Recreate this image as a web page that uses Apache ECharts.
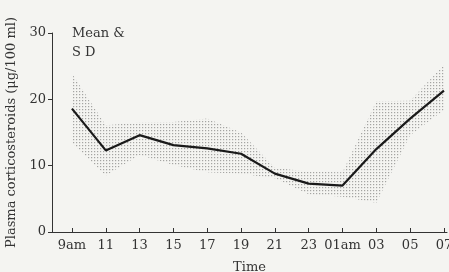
<!DOCTYPE html>
<html style="height: 100%">
<head>
   <meta charset="utf-8">
</head>
<style>
    body, html {
        margin: 0;
        background: #f4f4f1;
    }
    #chart {
        width: 449px;
        height: 272px;
    }
</style>
<title>Plasma corticosteroids</title>
<script src="https://cdn.jsdelivr.net/npm/echarts@6/dist/echarts.min.js"></script>
<body>
   <div id="chart"></div>
   <script type="text/javascript">
    // time points (tick labels)
    var times = ['9am', '11', '13', '15', '17', '19', '21', '23', '01am', '03', '05', '07'];
    // mean values
    var meanVals = [18.6, 12.3, 14.6, 13.1, 12.6, 11.8, 8.8, 7.3, 7.0, 12.5, 17.1, 21.3];
    // S D band edges
    var upperVals = [23.9, 16.1, 16.5, 16.6, 17.1, 15.0, 9.7, 9.1, 9.0, 19.7, 19.8, 25.2];
    var lowerVals = [13.4, 8.5, 11.6, 10.1, 9.0, 8.8, 8.1, 5.7, 5.3, 4.4, 14.6, 18.4];

    var serif = '"DejaVu Serif", "Liberation Serif", serif';

    // dotted texture for the S D band
    var pat = document.createElement('canvas');
    pat.width = 3;
    pat.height = 3;
    var pctx = pat.getContext('2d');
    pctx.fillStyle = 'rgba(110,110,110,0.6)';
    pctx.fillRect(1, 1, 1.2, 1.2);

    var chart = echarts.init(document.getElementById('chart'));
    var idx = times.map(function (t, i) { return i; });
    var option = {
        animation: false,
        backgroundColor: '#f4f4f1',
        grid: { left: 52, right: 2, top: 33, bottom: 40, outerBoundsMode: 'none' },
        xAxis: {
            type: 'value',
            min: -0.59,
            max: 11.09,
            name: 'Time',
            nameLocation: 'middle',
            nameGap: 29,
            nameTextStyle: { fontFamily: serif, fontSize: 13, color: '#333' },
            splitLine: { show: false },
            axisLine: { onZero: false, lineStyle: { color: '#333', width: 1 } },
            axisTick: { inside: true, length: 4, customValues: idx, lineStyle: { color: '#333' } },
            axisLabel: {
                customValues: idx,
                formatter: function (v) { return times[Math.round(v)]; },
                fontFamily: serif, fontSize: 13, color: '#333', margin: 7
            }
        },
        yAxis: {
            type: 'value',
            min: 0,
            max: 30,
            interval: 10,
            name: 'Plasma corticosteroids (\u03bcg/100 ml)',
            nameLocation: 'middle',
            nameGap: 34,
            nameTextStyle: { fontFamily: serif, fontSize: 13, color: '#333' },
            splitLine: { show: false },
            axisLine: { show: true, onZero: false, lineStyle: { color: '#333', width: 1 } },
            axisTick: { show: true, length: 4, lineStyle: { color: '#333' } },
            axisLabel: { fontFamily: serif, fontSize: 13, color: '#333', margin: 6 }
        },
        graphic: [{
            type: 'text',
            left: 72,
            top: 24,
            style: { text: 'Mean &\nS D', font: '13px ' + serif, fill: '#333', lineHeight: 19 }
        }],
        series: [{
            type: 'custom',
            silent: true,
            data: [0],
            renderItem: function (params, api) {
                var pts = [];
                idx.forEach(function (i) { pts.push(api.coord([i, upperVals[i]])); });
                idx.slice().reverse().forEach(function (i) { pts.push(api.coord([i, lowerVals[i]])); });
                return {
                    type: 'polygon',
                    shape: { points: pts },
                    style: { fill: { image: pat, repeat: 'repeat' } }
                };
            },
            z: 1
        }, {
            type: 'line',
            data: idx.map(function (i) { return [i, meanVals[i]]; }),
            lineStyle: { color: '#1a1a1a', width: 2.2 },
            symbol: 'none',
            z: 5
        }]
    };
    chart.setOption(option);
   </script>
</body>
</html>
